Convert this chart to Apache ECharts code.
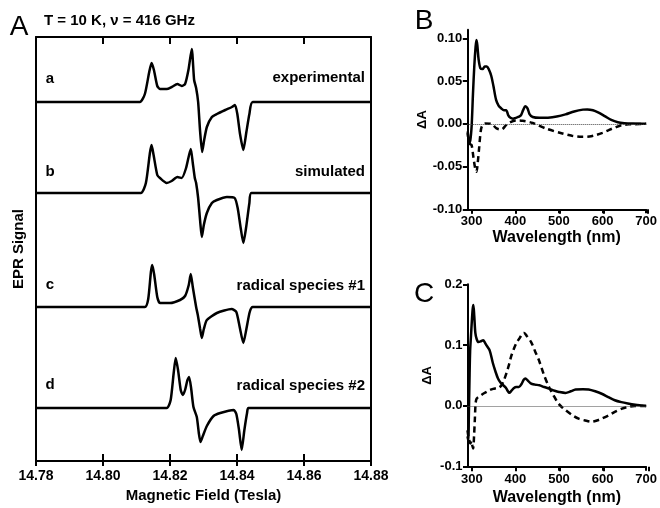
<!DOCTYPE html>
<html>
<head>
    <meta charset="utf-8">
    <title>EPR and difference spectra</title>
    <script src="https://cdn.jsdelivr.net/npm/echarts@6/dist/echarts.min.js"></script>
    <style>
        html, body { margin: 0; padding: 0; background: #fff; }
        #main { width: 660px; height: 508px; }
    </style>
</head>
<body>
<div id="main"></div>
<script>
    // ---- panel A: EPR traces, [field (T), signal (arb.)] ----
    var eprA = [[14.78,0],[14.811,0],[14.8125,8],[14.8138,30],[14.8145,39],[14.8152,32],[14.8162,16],[14.817,13],
        [14.819,13],[14.8205,15],[14.8222,18],[14.8235,16],[14.8245,18],[14.8255,32],[14.8265,53],[14.8272,22],
        [14.8278,14],[14.8284,0],[14.829,-30],[14.8296,-50],[14.8302,-38],[14.831,-25],[14.8325,-15],[14.834,-12],
        [14.8365,-8],[14.8385,-5],[14.8394,-3],[14.8401,-12],[14.8409,-32],[14.8419,-48],[14.8428,-30],
        [14.8437,-12],[14.8447,0],[14.88,0]];
    var eprB = [[14.78,0],[14.8113,0],[14.8128,10],[14.814,40],[14.8145,48],[14.8151,38],[14.8162,18],[14.817,15],
        [14.819,10],[14.8205,12],[14.8222,16],[14.8235,15],[14.8248,25],[14.8262,44],[14.8268,30],[14.8274,15],
        [14.8278,10],[14.8284,-5],[14.829,-28],[14.8295,-44],[14.8301,-32],[14.831,-20],[14.8325,-10],[14.834,-7],
        [14.837,-4],[14.8393,-5],[14.8402,-15],[14.8411,-35],[14.8419,-50],[14.8427,-35],[14.8437,-10],
        [14.8443,0],[14.88,0]];
    var eprC = [[14.78,0],[14.8125,0],[14.8135,8],[14.8143,35],[14.8147,42],[14.8153,32],[14.8162,10],[14.817,4],
        [14.82,4],[14.823,7],[14.8245,11],[14.8256,22],[14.8262,33],[14.8268,20],[14.8278,0],[14.8283,-8],
        [14.829,-22],[14.8295,-31],[14.8301,-22],[14.831,-13],[14.834,-6],[14.8384,-2],[14.8398,-5],
        [14.8408,-20],[14.8419,-36],[14.8428,-22],[14.8438,-5],[14.8447,0],[14.88,0]];
    var eprD = [[14.78,0],[14.819,0],[14.8202,8],[14.8211,35],[14.8217,50],[14.8224,38],[14.8232,18],[14.8238,13],
        [14.8245,18],[14.8252,28],[14.8257,31],[14.8263,20],[14.827,1],[14.828,-9],[14.8286,-25],[14.8291,-34],
        [14.8298,-28],[14.831,-18],[14.833,-8],[14.835,-5],[14.839,-2],[14.8398,-6],[14.8406,-22],[14.8414,-42],
        [14.8422,-22],[14.843,-5],[14.8434,0],[14.88,0]];

    // ---- panel B: [wavelength (nm), dA] ----
    var solidB = [[291,-0.009],[294,-0.023],[297,-0.019],[300,-0.002],[303,0.035],[306,0.067],[309,0.09],[311,0.098],
        [313,0.092],[316,0.075],[320,0.065],[325,0.064],[330,0.067],[335,0.067],[340,0.063],[345,0.056],[350,0.044],
        [356,0.028],[362,0.021],[368,0.018],[374,0.016],[379,0.016],[384,0.01],[389,0.007],[395,0.006],[401,0.007],
        [407,0.008],[413,0.01],[418,0.016],[423,0.0205],[428,0.018],[433,0.011],[440,0.008],[455,0.007],[475,0.0072],
        [495,0.0085],[515,0.011],[535,0.0145],[555,0.0166],[565,0.0168],[578,0.0158],[591,0.013],[605,0.009],
        [620,0.0045],[635,0.0018],[650,0.0008],[670,0.0003],[700,0]];
    var dashB = [[291,-0.011],[294,-0.022],[297,-0.024],[300,-0.025],[304,-0.039],[308,-0.052],[311,-0.056],
        [314,-0.045],[317,-0.029],[320,-0.012],[323,-0.0035],[330,0.0005],[345,0],[357,-0.0054],[368,-0.0066],
        [379,-0.0015],[387,0.0016],[402,0.004],[417,0.0035],[440,0.001],[470,-0.0055],[508,-0.0113],[530,-0.014],
        [553,-0.0152],[570,-0.0148],[584,-0.0133],[600,-0.0105],[614,-0.0074],[630,-0.004],[644,-0.0016],
        [660,-0.0006],[674,-0.0004],[700,0]];

    // ---- panel C: [wavelength (nm), dA] ----
    var solidC = [[290,-0.05],[292,-0.058],[293,-0.02],[294.5,0.04],[296,0.09],[298,0.115],[300,0.14],[302,0.16],
        [303.5,0.166],[305.5,0.148],[308,0.12],[311,0.11],[315,0.105],[320,0.106],[326,0.108],[330,0.104],
        [334,0.099],[341,0.091],[348,0.071],[354,0.057],[360,0.045],[366,0.038],[372,0.034],[378,0.03],[382,0.025],
        [386,0.0215],[391,0.025],[396,0.029],[402,0.031],[408,0.031],[414,0.036],[419,0.043],[423,0.045],
        [428,0.042],[435,0.037],[445,0.035],[455,0.034],[466,0.031],[477,0.0285],[490,0.025],[500,0.023],
        [515,0.0214],[527,0.024],[538,0.027],[555,0.0275],[568,0.027],[583,0.024],[598,0.02],[613,0.0145],
        [628,0.0093],[643,0.0062],[658,0.004],[675,0.002],[690,0.0008],[700,0]];
    var dashC = [[290,-0.04],[292,-0.05],[294,-0.056],[296.5,-0.062],[299,-0.058],[301,-0.065],[303,-0.07],
        [305,-0.05],[307,-0.02],[308.6,0.004],[311,0.012],[318,0.016],[326,0.02],[334,0.023],[341,0.026],
        [349,0.028],[356,0.029],[362,0.03],[368,0.034],[374,0.043],[379,0.053],[385,0.067],[390,0.081],[396,0.093],
        [402,0.103],[410,0.112],[416,0.119],[420,0.12],[426,0.115],[436,0.105],[445,0.09],[454,0.075],[465,0.052],
        [477,0.031],[487,0.018],[496,0.0066],[505,-0.001],[515,-0.007],[530,-0.015],[545,-0.021],[560,-0.024],
        [575,-0.026],[587,-0.024],[598,-0.021],[613,-0.016],[628,-0.0099],[643,-0.005],[658,-0.0016],[674,0],[700,0]];

    var fieldTicks = [14.78, 14.80, 14.82, 14.84, 14.86, 14.88];
    var wlTicks = [300, 400, 500, 600, 700];
    var ticksB = [-0.1, -0.05, 0, 0.05, 0.1];
    var ticksC = [-0.1, 0, 0.1, 0.2];

    var FONT = 'Liberation Sans';
    var baselines = [102, 193, 307, 408];   // y of each trace baseline in panel A
    var traces = [eprA, eprB, eprC, eprD];

    var chart = echarts.init(document.getElementById('main'));

    var grids = [{left: 36, top: 37, width: 335, height: 429}];
    var xAxes = [
        {
            gridIndex: 0, type: 'value', min: 14.78, max: 14.88, position: 'bottom',
            axisLine: {onZero: false, lineStyle: {color: '#000', width: 2}},
            axisTick: {show: true, inside: true, length: 7, lineStyle: {color: '#000', width: 2}, customValues: fieldTicks},
            axisLabel: {margin: 8, color: '#000', fontFamily: FONT, fontWeight: 'bold', fontSize: 14, customValues: fieldTicks,
                formatter: function (v) { return v.toFixed(2); }},
            splitLine: {show: false},
            name: 'Magnetic Field (Tesla)', nameLocation: 'middle', nameGap: 26,
            nameTextStyle: {color: '#000', fontFamily: FONT, fontWeight: 'bold', fontSize: 15}
        },
        {
            gridIndex: 0, type: 'value', min: 14.78, max: 14.88, position: 'top',
            axisLine: {onZero: false, lineStyle: {color: '#000', width: 2}},
            axisTick: {show: true, inside: true, length: 7, lineStyle: {color: '#000', width: 2}, customValues: fieldTicks},
            axisLabel: {show: false}, splitLine: {show: false}
        }
    ];
    var yAxes = [
        {
            gridIndex: 0, type: 'value', min: 0, max: 1, position: 'left',
            axisLine: {show: true, onZero: false, lineStyle: {color: '#000', width: 2}},
            axisTick: {show: false}, axisLabel: {show: false}, splitLine: {show: false},
            name: 'EPR Signal', nameLocation: 'middle', nameGap: 10,
            nameTextStyle: {color: '#000', fontFamily: FONT, fontWeight: 'bold', fontSize: 15}
        },
        {
            gridIndex: 0, type: 'value', min: 0, max: 1, position: 'right',
            axisLine: {show: true, onZero: false, lineStyle: {color: '#000', width: 2}},
            axisTick: {show: false}, axisLabel: {show: false}, splitLine: {show: false}
        }
    ];
    var series = [];

    // one hidden grid per EPR trace, 1 unit = 1 px
    traces.forEach(function (tr, i) {
        var gi = grids.length;
        grids.push({left: 36, top: baselines[i] - 60, width: 335, height: 120});
        xAxes.push({gridIndex: gi, type: 'value', min: 14.78, max: 14.88, show: false});
        yAxes.push({gridIndex: gi, type: 'value', min: -60, max: 60, show: false});
        series.push({
            type: 'line', xAxisIndex: xAxes.length - 1, yAxisIndex: yAxes.length - 1,
            data: tr, showSymbol: false, smooth: 0.2,
            lineStyle: {color: '#000', width: 2.5}
        });
    });

    // thin strips whose split lines act as tick marks
    var hiddenBits = {axisLine: {show: false}, axisTick: {show: false}, axisLabel: {show: false}};
    function tickStrip(box, horizontal, min, max, step) {
        var gi = grids.length;
        grids.push(box);
        var live = Object.assign({gridIndex: gi, type: 'value', min: min, max: max, interval: step,
            splitLine: {show: true, lineStyle: {color: '#000', width: 2, type: 'solid'}}}, hiddenBits);
        var dead = Object.assign({gridIndex: gi, type: 'value', min: 0, max: 1, splitLine: {show: false}}, hiddenBits);
        xAxes.push(horizontal ? live : dead);
        yAxes.push(horizontal ? dead : live);
    }
    tickStrip({left: 36, top: 37, width: 335, height: 7}, true, 14.78, 14.88, 0.02);
    tickStrip({left: 36, top: 459, width: 335, height: 7}, true, 14.78, 14.88, 0.02);

    function specAxes(gi, ymin, ymax, yticks, digits, titleGap) {
        xAxes.push({
            gridIndex: gi, type: 'value', min: 290, max: 700,
            axisLine: {onZero: false, lineStyle: {color: '#000', width: 2}},
            axisTick: {show: true, length: 4, lineStyle: {color: '#000', width: 2}, customValues: wlTicks},
            axisLabel: {margin: 6, color: '#000', fontFamily: FONT, fontWeight: 'bold', fontSize: 13, customValues: wlTicks},
            splitLine: {show: false},
            name: 'Wavelength (nm)', nameLocation: 'middle', nameGap: titleGap,
            nameTextStyle: {color: '#000', fontFamily: FONT, fontWeight: 'bold', fontSize: 16}
        });
        yAxes.push({
            gridIndex: gi, type: 'value', min: ymin, max: ymax,
            axisLine: {show: true, onZero: false, lineStyle: {color: '#000', width: 2}},
            axisTick: {show: true, length: 4, lineStyle: {color: '#000', width: 2}, customValues: yticks},
            axisLabel: {margin: 5, color: '#000', fontFamily: FONT, fontWeight: 'bold', fontSize: 13, customValues: yticks,
                formatter: function (v) { return v.toFixed(digits); }},
            splitLine: {show: false},
            name: 'ΔA', nameLocation: 'middle', nameGap: 34,
            nameTextStyle: {color: '#000', fontFamily: FONT, fontWeight: 'bold', fontSize: 13}
        });
    }

    function specSeries(solid, dash) {
        var xi = xAxes.length - 1, yi = yAxes.length - 1;
        series.push({
            type: 'line', xAxisIndex: xi, yAxisIndex: yi, data: dash, showSymbol: false, smooth: 0.3,
            lineStyle: {color: '#000', width: 2.5, type: [6, 4]},
            markLine: {
                silent: true, symbol: 'none', label: {show: false},
                lineStyle: {color: '#444', width: 1, type: 'dotted'},
                data: [{yAxis: 0}]
            }
        });
        series.push({
            type: 'line', xAxisIndex: xi, yAxisIndex: yi, data: solid, showSymbol: false, smooth: 0.3,
            lineStyle: {color: '#000', width: 2.5}
        });
    }

    // panel B
    grids.push({left: 467.3, top: 29.8, width: 180.7, height: 179.5});
    specAxes(grids.length - 1, -0.1, 0.11, ticksB, 2, 19);
    specSeries(solidB, dashB);
    tickStrip({left: 471.7, top: 209.3, width: 176.3, height: 4.5}, true, 300, 700, 100);
    tickStrip({left: 462.8, top: 38.3, width: 4.5, height: 171}, false, -0.1, 0.1, 0.05);

    // panel C
    grids.push({left: 467.5, top: 284.3, width: 180.8, height: 182.4});
    specAxes(grids.length - 1, -0.1, 0.2, ticksC, 1, 23);
    specSeries(solidC, dashC);
    tickStrip({left: 471.9, top: 466.7, width: 176.4, height: 4.5}, true, 300, 700, 100);
    tickStrip({left: 463, top: 284.3, width: 4.5, height: 182.4}, false, -0.1, 0.2, 0.1);

    function txt(s, x, y, size, weight, align) {
        return {
            type: 'text', x: x, y: y, silent: true,
            style: {text: s, fill: '#000', font: weight + ' ' + size + 'px "' + FONT + '"',
                textAlign: align, textVerticalAlign: 'middle'}
        };
    }

    var option = {
        animation: false,
        backgroundColor: '#fff',
        grid: grids,
        xAxis: xAxes,
        yAxis: yAxes,
        series: series,
        graphic: [
            txt('A', 19, 27, 28, 'normal', 'center'),
            txt('B', 424, 21, 28, 'normal', 'center'),
            txt('C', 424, 294, 28, 'normal', 'center'),
            txt('T = 10 K, ν = 416 GHz', 44, 21, 15, 'bold', 'left'),
            txt('a', 50, 79, 15, 'bold', 'center'),
            txt('b', 50, 172, 15, 'bold', 'center'),
            txt('c', 50, 285, 15, 'bold', 'center'),
            txt('d', 50, 385, 15, 'bold', 'center'),
            txt('experimental', 365, 78, 15, 'bold', 'right'),
            txt('simulated', 365, 172, 15, 'bold', 'right'),
            txt('radical species #1', 365, 286, 15, 'bold', 'right'),
            txt('radical species #2', 365, 386, 15, 'bold', 'right')
        ]
    };
    chart.setOption(option);
</script>
</body>
</html>
